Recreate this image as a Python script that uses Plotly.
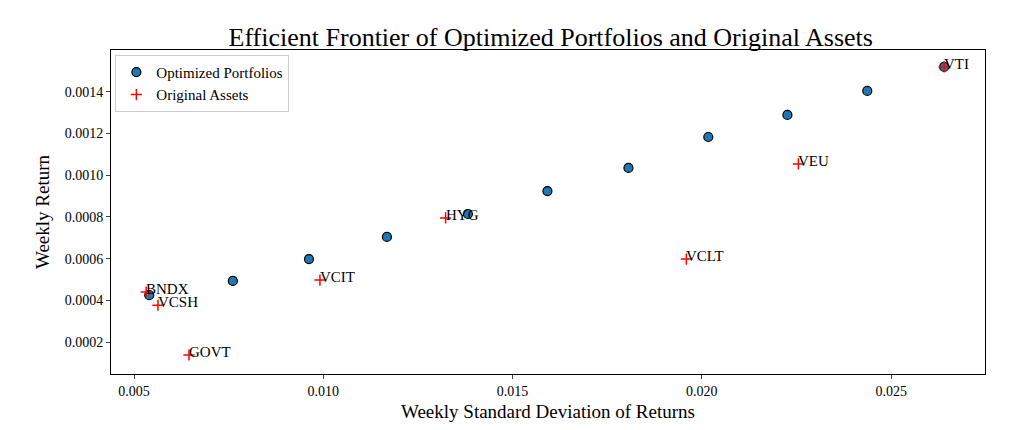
import plotly.graph_objects as go

port_std = [0.00540, 0.00761, 0.00962, 0.01168, 0.01382, 0.01592, 0.01806, 0.02017, 0.02226, 0.02437, 0.02640]
port_ret = [0.000425, 0.000493, 0.000598, 0.000704, 0.000814, 0.000924, 0.001035, 0.001183, 0.001289, 0.001404, 0.001519]
asset_names = ["BNDX", "VCSH", "GOVT", "VCIT", "HYG", "VCLT", "VEU", "VTI"]
asset_std = [0.00532, 0.00563, 0.00645, 0.00991, 0.01323, 0.01959, 0.02255, 0.02640]
asset_ret = [0.000440, 0.000377, 0.000138, 0.000497, 0.000795, 0.000598, 0.001054, 0.001519]

F = "Liberation Serif"
fig = go.Figure()
fig.add_trace(go.Scatter(x=port_std, y=port_ret, mode="markers", name="Optimized Portfolios",
                         marker=dict(size=9, color="#1f77b4", line=dict(color="black", width=1.2))))
fig.add_trace(go.Scatter(x=asset_std, y=asset_ret, mode="markers", name="Original Assets",
                         marker=dict(symbol="cross-thin", size=8, color="red", line=dict(color="red", width=1.5))))
for n, x, y in zip(asset_names, asset_std, asset_ret):
    fig.add_annotation(x=x, y=y, text=n, showarrow=False, xanchor="left", yanchor="bottom",
                       xshift=-2, yshift=-7, font=dict(family=F, size=15, color="black"))
fig.update_layout(
    width=1024, height=430, plot_bgcolor="white", paper_bgcolor="white",
    margin=dict(l=103, r=47, t=42, b=64, autoexpand=False),
    font=dict(family=F, size=14, color="black"),
    title=dict(text="Efficient Frontier of Optimized Portfolios and Original Assets", x=0.53, xanchor="center",
               y=0.955, font=dict(size=26)),
    legend=dict(x=0.005, y=0.985, bordercolor="#cccccc", borderwidth=1, bgcolor="white", font=dict(size=15)),
    showlegend=True,
)
ax = dict(showgrid=False, zeroline=False, showline=True, mirror=True, linecolor="black", linewidth=1,
          ticks="outside", ticklen=4, tickfont=dict(size=14), automargin=False)
fig.update_xaxes(ax, range=[0.00439, 0.02748], tickvals=[0.005, 0.010, 0.015, 0.020, 0.025],
                 ticktext=["0.005", "0.010", "0.015", "0.020", "0.025"],
                 title=dict(text="Weekly Standard Deviation of Returns", font=dict(size=19), standoff=6))
fig.update_yaxes(ax, range=[0.000047, 0.0016], tickvals=[0.0002, 0.0004, 0.0006, 0.0008, 0.0010, 0.0012, 0.0014],
                 ticktext=["0.0002", "0.0004", "0.0006", "0.0008", "0.0010", "0.0012", "0.0014"],
                 title=dict(text="Weekly Return", font=dict(size=19), standoff=10))
fig.write_html("out.html")
